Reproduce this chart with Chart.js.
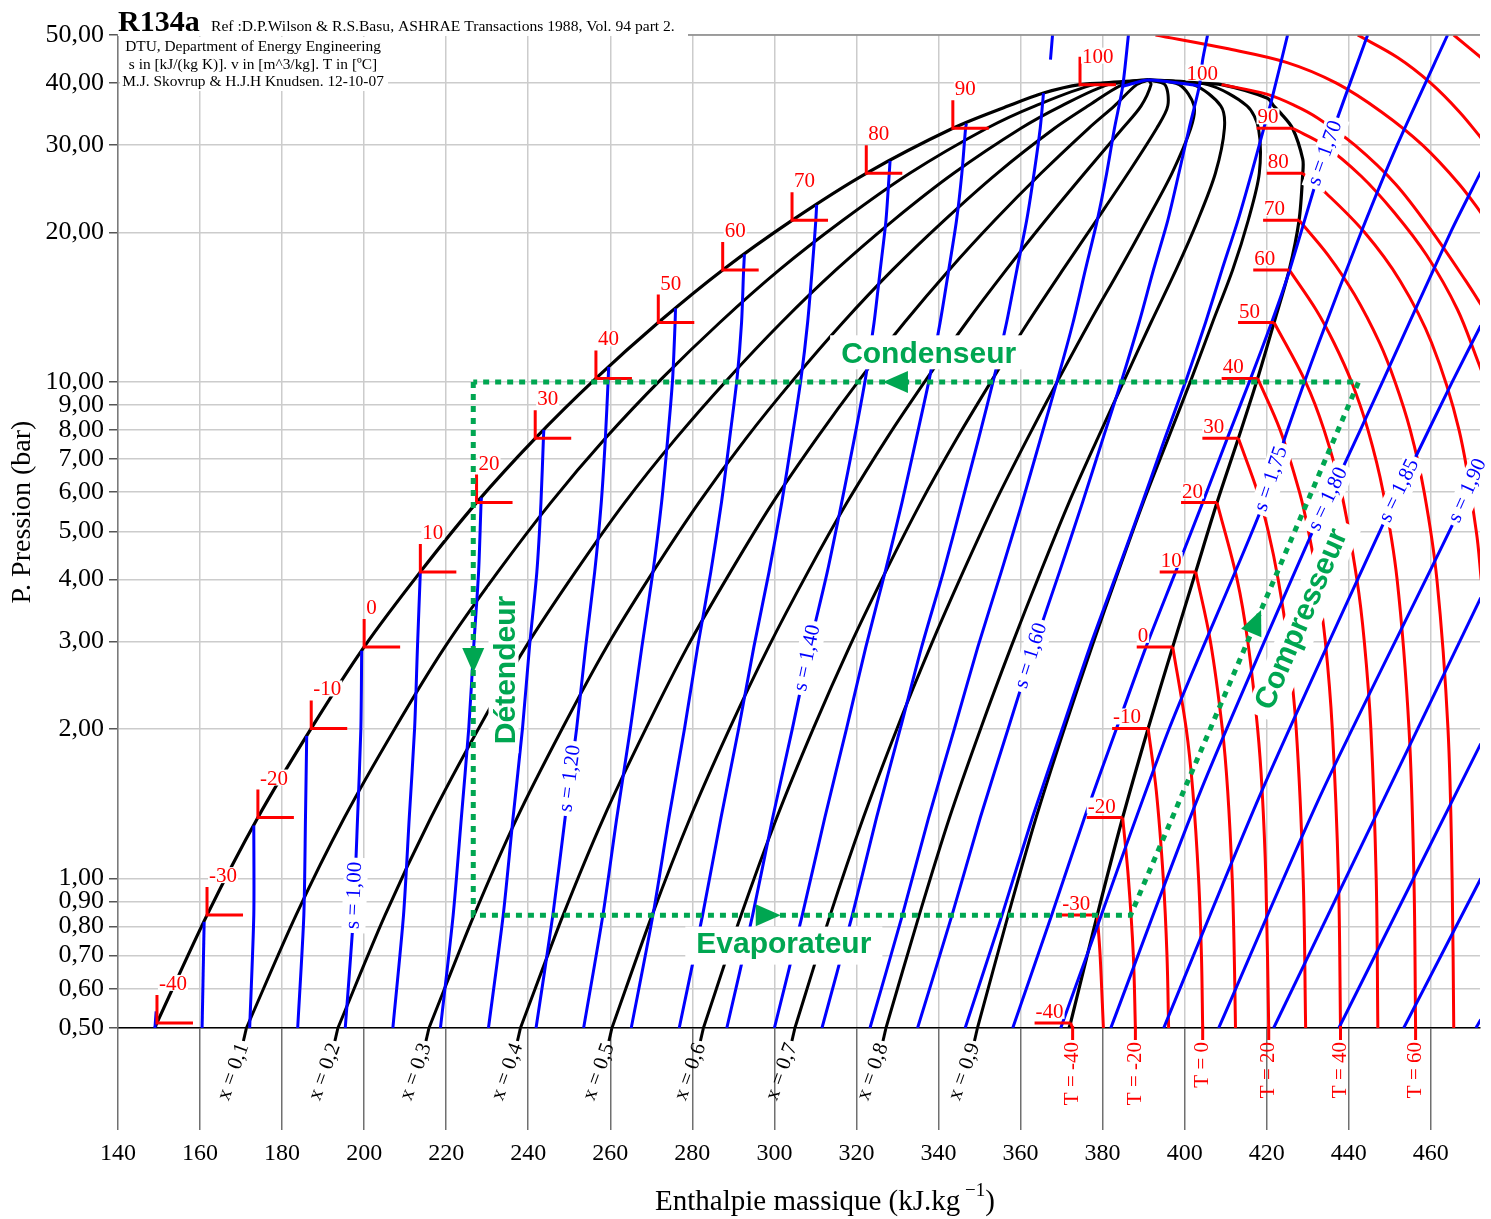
<!DOCTYPE html>
<html>
<head>
<meta charset="utf-8">
<title>R134a</title>
<script src="https://cdn.jsdelivr.net/npm/chart.js@4.4.1/dist/chart.umd.min.js"></script>
<style>
html,body{margin:0;padding:0;background:#ffffff;}
canvas{display:block;}
</style>
</head>
<body>
<canvas id="chart" width="1491" height="1219"></canvas>
<script>
// ---------------- axes ----------------
const X_TICKS = [140,160,180,200,220,240,260,280,300,320,340,360,380,400,420,440,460];
const Y_TICKS = [0.5,0.6,0.7,0.8,0.9,1,2,3,4,5,6,7,8,9,10,20,30,40,50];
const X_MIN = 140, X_MAX = 472, Y_MIN = 0.5, Y_MAX = 50;

// ---------------- saturation (markers) ----------------
const satT  = [-40,-30,-20,-10,0,10,20,30,40,50,60,70,80,90,100];
const satP  = [0.512,0.844,1.327,2.006,2.928,4.146,5.717,7.702,10.17,13.18,16.82,21.17,26.33,32.44,39.72];
const satHl = [149.5,161.7,174.1,187.1,200.0,213.7,227.4,241.7,256.5,271.7,287.4,304.3,322.4,343.5,374.5];
const satHv = [372.2,378.7,384.9,391.1,397.1,402.7,407.9,413.1,417.8,421.8,425.5,427.9,428.8,426.3,409.0];

// ---------------- saturation dome ----------------
const domeLiqP = [0.5,0.512,0.844,1.327,2.006,2.928,4.146,5.717,7.702,10.17,13.18,16.82,21.17,26.33,32.44,36.0,38.2,39.72,40.1,40.6];
const domeLiqH = [149.0,149.5,161.7,174.1,187.1,200.0,213.7,227.4,241.7,256.5,271.7,287.4,304.3,322.4,343.5,357.1,365.6,374.5,384.4,391.2];
const domeVapP = [40.6,40.0,39.72,37.3,36.0,34.8,32.44,28.1,26.33,21.17,16.82,13.18,10.17,7.702,5.717,4.146,2.928,2.006,1.327,0.844,0.512,0.5];
const domeVapH = [391.2,402.2,409.0,420.2,421.7,423.4,426.3,428.8,428.8,427.9,425.5,421.8,417.8,413.1,407.9,402.7,397.1,391.1,384.9,378.7,372.2,371.8];

// ---------------- quality lines ----------------
const qualP = [0.5,0.844,1.327,2.006,2.928,4.146,5.717,7.702,10.17,13.18,16.82,21.17,26.33,32.44,36.0,39.72,40.6];
const qualX = ['0,1','0,2','0,3','0,4','0,5','0,6','0,7','0,8','0,9'];
const q01 = [171.3,183.4,195.2,207.5,219.7,232.6,245.5,258.8,272.6,286.7,301.2,316.7,333.0,351.8,363.6,378.0,391.2];
const q02 = [193.6,205.1,216.3,227.9,239.4,251.5,263.5,276.0,288.8,301.7,315.0,329.0,343.7,360.1,370.0,381.4,391.2];
const q03 = [215.8,226.8,237.3,248.3,259.1,270.4,281.6,293.1,304.9,316.7,328.8,341.4,354.3,368.3,376.5,384.9,391.2];
const q04 = [238.1,248.5,258.4,268.7,278.8,289.3,299.6,310.3,321.0,331.7,342.6,353.7,365.0,376.6,382.9,388.3,391.2];
const q05 = [260.4,270.2,279.5,289.1,298.6,308.2,317.7,327.4,337.2,346.8,356.5,366.1,375.6,384.9,389.4,391.8,391.2];
const q06 = [282.7,291.9,300.6,309.5,318.3,327.1,335.7,344.5,353.3,361.8,370.3,378.5,386.2,393.2,395.9,395.2,391.2];
const q07 = [305.0,313.6,321.7,329.9,338.0,346.0,353.8,361.7,369.4,376.8,384.1,390.8,396.9,401.5,402.3,398.7,391.2];
const q08 = [327.2,335.3,342.7,350.3,357.7,364.9,371.8,378.8,385.5,391.8,397.9,403.2,407.5,409.7,408.8,402.1,391.2];
const q09 = [349.5,357.0,363.8,370.7,377.4,383.8,389.9,396.0,401.7,406.8,411.7,415.5,418.2,418.0,415.2,405.6,391.2];

// ---------------- isentropes (s in kJ/(kg K)) ----------------
const s080h = [149.0,149.3];                   const s080p = [0.5,0.54];
const s085h = [160.5,161.0];                   const s085p = [0.5,0.818];
const s090h = [172.1,173.1,173.1];             const s090p = [0.5,0.844,1.279];
const s095h = [183.8,185.3,185.7,186.0];       const s095p = [0.5,0.844,1.327,1.938];
const s100h = [195.4,197.4,198.4,199.2,199.4]; const s100p = [0.5,0.844,1.327,2.006,2.875];
const s105h = [207.0,209.6,211.0,212.3,213.0,213.7];
const s105p = [0.5,0.844,1.327,2.006,2.928,4.15];
const s110h = [218.6,221.7,223.7,225.5,226.7,227.9,228.5,228.6];
const s110p = [0.5,0.844,1.327,2.006,2.928,4.146,5.717,5.85];
const s115h = [230.3,233.9,236.3,238.6,240.3,242.1,243.1,243.7,243.8];
const s115p = [0.5,0.844,1.327,2.006,2.928,4.146,5.717,7.702,8.01];
const s120h = [241.9,246.0,249.0,251.8,254.0,256.2,257.8,258.8,259.5,259.6];
const s120p = [0.5,0.844,1.327,2.006,2.928,4.146,5.717,7.702,10.17,10.73];
const s125h = [253.5,258.2,261.6,264.9,267.7,270.4,272.5,274.0,275.2,275.8,275.9];
const s125p = [0.5,0.844,1.327,2.006,2.928,4.146,5.717,7.702,10.17,13.18,14.07];
const s130h = [265.1,270.4,274.3,278.1,281.3,284.5,287.1,289.1,290.9,292.0,292.5,292.7];
const s130p = [0.5,0.844,1.327,2.006,2.928,4.146,5.717,7.702,10.17,13.18,16.82,18.08];
const s135h = [276.8,282.5,287.0,291.3,295.0,298.7,301.8,304.3,306.5,308.1,309.2,310.1,310.3];
const s135p = [0.5,0.844,1.327,2.006,2.928,4.146,5.717,7.702,10.17,13.18,16.82,21.17,22.75];
const s140h = [288.4,294.7,299.6,304.4,308.6,312.9,316.4,319.5,322.2,324.3,325.8,327.2,328.0,328.2];
const s140p = [0.5,0.844,1.327,2.006,2.928,4.146,5.717,7.702,10.17,13.18,16.82,21.17,26.33,27.9];
const s145h = [300.0,306.8,312.3,317.6,322.3,327.0,331.1,334.6,337.8,340.4,342.5,344.4,345.7,346.6,346.8];
const s145p = [0.5,0.844,1.327,2.006,2.928,4.146,5.717,7.702,10.17,13.18,16.82,21.17,26.33,32.44,33.15];
const s150h = [311.6,319.0,324.9,330.7,335.9,341.2,345.7,349.8,353.5,356.6,359.1,361.5,363.3,364.8,365.6];
const s150p = [0.5,0.844,1.327,2.006,2.928,4.146,5.717,7.702,10.17,13.18,16.82,21.17,26.33,32.44,38.2];
const s150bh = [367.3,367.8];                  const s150bp = [44.6,50];
const s155h = [323.3,331.2,337.6,343.9,349.6,355.3,360.4,364.9,369.1,372.8,375.8,378.7,381.0,382.9,384.9,386.3];
const s155p = [0.5,0.844,1.327,2.006,2.928,4.146,5.717,7.702,10.17,13.18,16.82,21.17,26.33,32.44,39.4,50];
const s160h = [334.9,343.3,350.2,357.0,363.3,369.5,375.1,380.1,384.8,388.9,392.4,395.9,398.6,401.1,403.6,404.4,405.6];
const s160p = [0.5,0.844,1.327,2.006,2.928,4.146,5.717,7.702,10.17,13.18,16.82,21.17,26.33,32.44,39.5,44.6,50];
const s165h = [346.5,355.5,362.9,370.2,376.9,383.6,389.7,395.2,400.5,405.1,409.1,413.0,416.3,419.3,421.0,425.1];
const s165p = [0.5,0.844,1.327,2.006,2.928,4.146,5.717,7.702,10.17,13.18,16.82,21.17,26.33,32.44,36.4,50];
const s170h = [358.1,367.6,375.6,383.4,390.6,397.8,404.4,410.4,416.1,421.2,425.4,434.0,444.6];
const s170p = [0.5,0.844,1.327,2.006,2.928,4.146,5.717,7.702,10.17,13.18,16.6,28.5,50];
const s175h = [369.8,376.4,396.2,418.5,425.0,432.7,443.0,451.8,464.1];
const s175p = [0.5,0.709,2.0,5.5,7.97,12,20,30,50];
const s180h = [382.0,403.9,430.2,437.3,448.2,464.8,472.2];
const s180p = [0.5,1.5,4.79,6.38,10,20,26.5];
const s185h = [394.9,418.8,448.5,455.6,465.2,472.2];
const s185p = [0.5,1.5,5.2,6.87,10,13.0];
const s190h = [408.3,433.6,465.4,472.2];       const s190p = [0.5,1.5,5.18,6.93];
const s195h = [421.7,472.2];                   const s195p = [0.5,3.68];
const s200h = [437.6,472.2];                   const s200p = [0.5,1.87];
const s205h = [453.4,472.2];                   const s205p = [0.5,1.0];
const s210h = [471.0,472.2];                   const s210p = [0.5,0.52];
const sTopH = [384.9,391.2,403.6];             const sTopP = [39.4,40.6,39.5];

// ---------------- isotherms (T in degC) ----------------
const tM40h = [372.2,372.7]; const tM40p = [0.512,0.5];
const tM30h = [378.7,379.4,380.2]; const tM30p = [0.844,0.7,0.5];
const tM20h = [384.9,386.3,387.5,388.0]; const tM20p = [1.327,1.0,0.7,0.5];
const tM10h = [391.1,393.1,394.8,395.7,396.1]; const tM10p = [2.006,1.5,1.0,0.7,0.5];
const t000h = [397.1,400.4,402.0,403.4,404.1,404.4]; const t000p = [2.928,2.0,1.5,1.0,0.7,0.5];
const t010h = [402.7,406.3,409.2,410.5,411.6,412.1,412.4]; const t010p = [4.146,3,2,1.5,1,0.7,0.5];
const t020h = [407.9,412.8,415.4,417.8,418.9,419.8,420.5]; const t020p = [5.717,4,3,2,1.5,1,0.5];
const t030h = [413.1,417.8,420.4,422.8,425.1,427.2,428.9,429.5]; const t030p = [7.702,6,5,4,3,2,1,0.5];
const t040h = [417.8,423.3,428.0,430.2,432.3,434.3,436.0,437.5,438.0]; const t040p = [10.17,8,6,5,4,3,2,1,0.5];
const t050h = [421.8,429.5,434.0,438.2,442.0,443.8,445.4,446.7,447.1]; const t050p = [13.18,10,8,6,4,3,2,1,0.5];
const t060h = [425.5,432.0,436.4,440.7,444.7,448.4,451.8,454.7,455.9,456.3]; const t060p = [16.82,14,12,10,8,6,4,2,1,0.5];
const t070h = [427.9,435.0,441.4,447.5,451.3,455.0,458.4,461.5,464.2,465.2,465.6]; const t070p = [21.17,18,15,12,10,8,6,4,2,1,0.5];
const t080h = [428.8,434.5,443.9,452.5,460.2,466.9,471.1,472.3]; const t080p = [26.33,24,20,16,12,8,5,4];
const t090h = [426.3,434.0,443.0,451.0,459.0,466.5,471.5,473.0]; const t090p = [32.44,30,26,22,18,14,11,10.2];
const t100h = [409.0,420.0,427.0,432.5,441.5,451.5,460.5,468.5,473.0]; const t100p = [39.72,38,36,34,30,25,20,16,14];
const t110h = [392.9,410.0,425.0,437.0,448.0,458.0,467.0,473.0]; const t110p = [50,47,44,40,35,30,25,21.5];
const t120h = [442.2,452.0,460.0,467.0,473.0]; const t120p = [50,45,40,35,30.5];
const t130h = [465.6,473.0]; const t130p = [50,44.5];

// ---------------- refrigeration cycle ----------------
const cycH = [226.6,226.6,386.8,442.4,226.6];
const cycP = [10.0,0.843,0.843,10.0,10.0];

// ================= build datasets =================
const RED = '#ff0000', BLUE = '#0000ff', BLACK = '#000000', GREEN = '#00a651';
const datasets = [];
function addLine(h, p, color, width, order, tension, extra) {
  datasets.push(Object.assign({
    data: h.map((v, i) => ({ x: v, y: p[i] })),
    showLine: true, borderColor: color, borderWidth: width, pointRadius: 0,
    pointHoverRadius: 0, fill: false, tension: tension, order: order, clip: 0,
    borderJoinStyle: 'round', borderCapStyle: 'butt'
  }, extra || {}));
  return datasets.length - 1;
}
const qualLines = [q01,q02,q03,q04,q05,q06,q07,q08,q09];
qualLines.forEach(q => addLine(q, qualP, BLACK, 3, 4, 0.3));
addLine(domeLiqH.concat(domeVapH.slice(1)), domeLiqP.concat(domeVapP.slice(1)), BLACK, 3.2, 4, 0.3);
const isoList = [
  [-40,tM40h,tM40p],[-30,tM30h,tM30p],[-20,tM20h,tM20p],[-10,tM10h,tM10p],[0,t000h,t000p],
  [10,t010h,t010p],[20,t020h,t020p],[30,t030h,t030p],[40,t040h,t040p],[50,t050h,t050p],
  [60,t060h,t060p],[70,t070h,t070p],[80,t080h,t080p],[90,t090h,t090p],[100,t100h,t100p],
  [110,t110h,t110p],[120,t120h,t120p],[130,t130h,t130p]
];
isoList.forEach(it => addLine(it[1], it[2], RED, 3, 3, 0.35));
const isenList = [
  [s080h,s080p],[s085h,s085p],[s090h,s090p],[s095h,s095p],[s100h,s100p],[s105h,s105p],
  [s110h,s110p],[s115h,s115p],[s120h,s120p],[s125h,s125p],[s130h,s130p],[s135h,s135p],
  [s140h,s140p],[s145h,s145p],[s150h,s150p],[s150bh,s150bp],[s155h,s155p],[s160h,s160p],
  [s165h,s165p],[s170h,s170p],[s175h,s175p],[s180h,s180p],[s185h,s185p],[s190h,s190p],
  [s195h,s195p],[s200h,s200p],[s205h,s205p],[s210h,s210p],[sTopH,sTopP]
];
isenList.forEach(it => addLine(it[0], it[1], BLUE, 3, 2, 0.25));
const CYCLE_INDEX = addLine(cycH, cycP, GREEN, 5, 0, 0, { borderDash: [6, 6], clip: false, borderJoinStyle: 'miter' });

const sLabels = [
  ['s = 1,00', s100h, s100p, 0.925], ['s = 1,20', s120h, s120p, 1.59],
  ['s = 1,40', s140h, s140p, 2.78],  ['s = 1,60', s160h, s160p, 2.81],
  ['s = 1,70', s170h, s170p, 28.9],  ['s = 1,75', s175h, s175p, 6.38],
  ['s = 1,80', s180h, s180p, 5.81],  ['s = 1,85', s185h, s185p, 6.04],
  ['s = 1,90', s190h, s190p, 6.04]
];
const bottomT = [-40,-20,0,20,40,60];

// ================= drawing helpers =================
const SERIF = '"Liberation Serif", "Times New Roman", serif';
const SANS = '"Liberation Sans", Arial, sans-serif';
function txt(ctx, s, x, y, ang, font, color, align, base, padX, padY) {
  ctx.save();
  ctx.translate(x, y); ctx.rotate(ang || 0);
  ctx.font = font; ctx.textAlign = align || 'center'; ctx.textBaseline = base || 'middle';
  const m = ctx.measureText(s), w = m.width;
  if (padX !== undefined && padX !== null) {
    const asc = m.actualBoundingBoxAscent, desc = m.actualBoundingBoxDescent;
    const x0 = align === 'left' ? 0 : (align === 'right' ? -w : -w / 2);
    ctx.fillStyle = '#ffffff';
    ctx.fillRect(x0 - padX, -asc - padY, w + 2 * padX, asc + desc + 2 * padY);
  }
  ctx.fillStyle = color; ctx.fillText(s, 0, 0);
  ctx.restore();
}
function along(X, Y, hA, pA, pt) {
  for (let i = 0; i < pA.length - 1; i++) {
    const p1 = pA[i], p2 = pA[i + 1];
    if ((pt - p1) * (pt - p2) <= 0) {
      const x1 = X(hA[i]), y1 = Y(p1), x2 = X(hA[i + 1]), y2 = Y(p2);
      const yt = Y(pt), t = (yt - y1) / (y2 - y1);
      let dx = x2 - x1, dy = y2 - y1;
      if (dy > 0) { dx = -dx; dy = -dy; }
      return { x: x1 + t * (x2 - x1), y: yt, a: Math.atan2(dy, dx) };
    }
  }
  return null;
}
function arrow(ctx, cx, cy, dx, dy) {
  const L = 25, W = 22, nx = -dy, ny = dx;
  ctx.beginPath();
  ctx.moveTo(cx + dx * L / 2, cy + dy * L / 2);
  ctx.lineTo(cx - dx * L / 2 + nx * W / 2, cy - dy * L / 2 + ny * W / 2);
  ctx.lineTo(cx - dx * L / 2 - nx * W / 2, cy - dy * L / 2 - ny * W / 2);
  ctx.closePath(); ctx.fill();
}

const deco = {
  id: 'deco',
  beforeDatasetDraw(chart, args) {
    if (args.index !== CYCLE_INDEX) return;
    const ctx = chart.ctx, xs = chart.scales.x, ys = chart.scales.y, ca = chart.chartArea;
    const X = v => xs.getPixelForValue(v), Y = v => ys.getPixelForValue(v);
    ctx.save();
    ctx.strokeStyle = '#8a8a8a'; ctx.lineWidth = 1.5;
    ctx.beginPath(); ctx.moveTo(ca.left, ca.top); ctx.lineTo(ca.right, ca.top); ctx.stroke();
    const FT = '21px ' + SERIF;
    ctx.strokeStyle = RED; ctx.lineWidth = 3; ctx.lineCap = 'butt';
    satT.forEach((t, i) => {
      const cx = X(satHl[i]), cy = Y(satP[i]);
      ctx.beginPath(); ctx.moveTo(cx, cy - 28); ctx.lineTo(cx, cy); ctx.lineTo(cx + 36, cy); ctx.stroke();
      const vx = X(satHv[i]);
      if (t !== 100) { ctx.beginPath(); ctx.moveTo(vx - 36, cy); ctx.lineTo(vx, cy); ctx.stroke(); }
    });
    satT.forEach((t, i) => {
      const cx = X(satHl[i]), cy = Y(satP[i]);
      txt(ctx, String(t), cx + 2, cy - (t === 100 ? 22 : 33), 0, FT, RED, 'left', 'alphabetic', 1, 1);
      const vx = X(satHv[i]);
      txt(ctx, String(t), vx - 35, cy - 5, 0, FT, RED, 'left', 'alphabetic', 1, 1);
    });
    sLabels.forEach(l => {
      const q = along(X, Y, l[1], l[2], l[3]);
      if (q) txt(ctx, l[0], q.x, q.y, q.a, '21px ' + SERIF, BLUE, 'center', 'middle', 4, 3);
    });
    ctx.strokeStyle = BLACK; ctx.lineWidth = 3;
    qualLines.forEach((q, i) => {
      const bx = X(q[0]);
      ctx.beginPath(); ctx.moveTo(bx, ca.bottom); ctx.lineTo(bx - 3, ca.bottom + 13); ctx.stroke();
      txt(ctx, 'x = ' + qualX[i], bx - 3, ca.bottom + 16, -70 * Math.PI / 180, '21px ' + SERIF, BLACK, 'right', 'middle');
    });
    ctx.strokeStyle = RED; ctx.lineWidth = 3;
    isoList.forEach(it => {
      if (bottomT.indexOf(it[0]) < 0) return;
      const h = it[1][it[1].length - 1];
      const bx = X(h);
      ctx.beginPath(); ctx.moveTo(bx, ca.bottom - 2); ctx.lineTo(bx, ca.bottom + 12); ctx.stroke();
      txt(ctx, 'T = ' + it[0], bx, ca.bottom + 14, -Math.PI / 2, '21px ' + SERIF, RED, 'right', 'middle');
    });
    ctx.restore();
  },
  afterDatasetsDraw(chart) {
    const ctx = chart.ctx, xs = chart.scales.x, ys = chart.scales.y, ca = chart.chartArea;
    const X = v => xs.getPixelForValue(v), Y = v => ys.getPixelForValue(v);
    ctx.save();
    ctx.fillStyle = GREEN;
    arrow(ctx, X(cycH[0]), Y(2.75), 0, 1);
    arrow(ctx, X(298.5), Y(cycP[1]), 1, 0);
    arrow(ctx, X(329.5), Y(cycP[3]), -1, 0);
    const p1 = { x: X(cycH[2]), y: Y(cycP[2]) }, p2 = { x: X(cycH[3]), y: Y(cycP[3]) };
    const len = Math.hypot(p2.x - p1.x, p2.y - p1.y), ux = (p2.x - p1.x) / len, uy = (p2.y - p1.y) / len;
    arrow(ctx, p1.x + 0.551 * (p2.x - p1.x), p1.y + 0.551 * (p2.y - p1.y), ux, uy);
    const FG = 'bold 30px ' + SANS;
    txt(ctx, 'Condenseur', X(337.6), Y(cycP[3]) - 27, 0, FG, GREEN, 'center', 'middle', 11, 6);
    txt(ctx, 'Evaporateur', X(302.3), Y(cycP[1]) + 29, 0, FG, GREEN, 'center', 'middle', 11, 6);
    txt(ctx, 'Détendeur', X(cycH[0]) + 33, Y(2.63), -Math.PI / 2, FG, GREEN, 'center', 'middle', 9, 4);
    const cc = { x: p1.x + 0.555 * (p2.x - p1.x) + 45, y: p1.y + 0.555 * (p2.y - p1.y) };
    txt(ctx, 'Compresseur', cc.x, cc.y, Math.atan2(uy, ux), FG, GREEN, 'center', 'middle', 9, 5);
    ctx.fillStyle = '#ffffff';
    ctx.fillRect(ca.left, 5, 570, ca.top - 4);
    ctx.fillRect(ca.left + 2, ca.top + 2, 268, 54);
    txt(ctx, 'R134a', ca.left, 31, 0, 'bold 30px ' + SERIF, BLACK, 'left', 'alphabetic');
    txt(ctx, 'Ref :D.P.Wilson & R.S.Basu, ASHRAE Transactions 1988, Vol. 94 part 2.', 211, 31, 0, '15.6px ' + SERIF, BLACK, 'left', 'alphabetic');
    const FB = '15.4px ' + SERIF;
    txt(ctx, 'DTU, Department of Energy Engineering', 253, 51, 0, FB, BLACK, 'center', 'alphabetic');
    txt(ctx, 's in [kJ/(kg K)]. v in [m^3/kg]. T in [ºC]', 253, 69, 0, FB, BLACK, 'center', 'alphabetic');
    txt(ctx, 'M.J. Skovrup & H.J.H Knudsen. 12-10-07', 253, 86, 0, FB, BLACK, 'center', 'alphabetic');
    ctx.fillStyle = BLACK;
    const f1 = '29px ' + SERIF, f2 = '19px ' + SERIF;
    ctx.font = f1; const a = 'Enthalpie massique (kJ.kg', c = ')';
    const wa = ctx.measureText(a).width, wc = ctx.measureText(c).width;
    ctx.font = f2; const b = ' \u22121', wb = ctx.measureText(b).width;
    let sx = 825 - (wa + wb + wc) / 2;
    ctx.textAlign = 'left'; ctx.textBaseline = 'alphabetic';
    ctx.font = f1; ctx.fillText(a, sx, 1210);
    ctx.font = f2; ctx.fillText(b, sx + wa, 1196);
    ctx.font = f1; ctx.fillText(c, sx + wa + wb, 1210);
    txt(ctx, 'P. Pression (bar)', 23, 512, -Math.PI / 2, '28px ' + SERIF, BLACK, 'center', 'middle');
    ctx.restore();
  }
};

const chart = new Chart(document.getElementById('chart'), {
  type: 'scatter',
  data: { datasets: datasets },
  options: {
    responsive: false, animation: false, devicePixelRatio: 1, events: [],
    layout: { padding: { top: 35, right: 11, left: 0, bottom: 0 } },
    plugins: { legend: { display: false }, tooltip: { enabled: false } },
    scales: {
      x: {
        type: 'linear', min: X_MIN, max: X_MAX,
        afterBuildTicks: s => { s.ticks = X_TICKS.map(v => ({ value: v })); },
        afterFit: s => { s.height = 191; },
        grid: { color: '#cccccc', lineWidth: 1.5, tickColor: '#707070', tickLength: 102, tickWidth: 1.5 },
        border: { color: '#000000', width: 1.5 },
        ticks: { autoSkip: false, maxRotation: 0, minRotation: 0, padding: 9, color: '#000',
                 font: { family: SERIF, size: 24 }, callback: v => String(v) }
      },
      y: {
        type: 'logarithmic', min: Y_MIN, max: Y_MAX,
        afterBuildTicks: s => { s.ticks = Y_TICKS.map(v => ({ value: v })); },
        afterFit: s => { s.width = 118; },
        grid: { color: '#cccccc', lineWidth: 1.5, tickColor: '#555555', tickLength: 9, tickWidth: 1.5 },
        border: { color: '#7a7a7a', width: 1.5 },
        ticks: { autoSkip: false, padding: 5, color: '#000',
                 font: { family: SERIF, size: 26 },
                 callback: v => Number(v).toFixed(2).replace('.', ',') }
      }
    }
  },
  plugins: [deco]
});
</script>
</body>
</html>
